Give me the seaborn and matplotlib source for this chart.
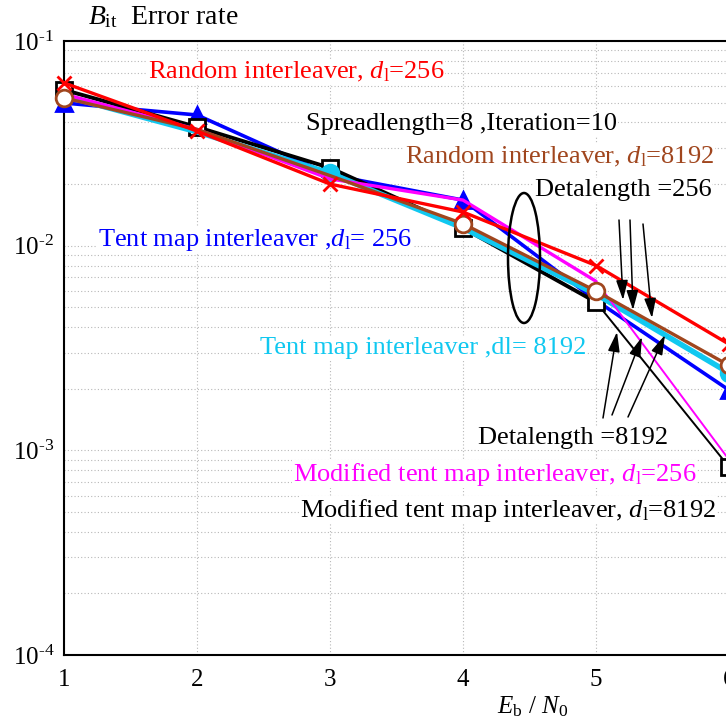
import matplotlib
matplotlib.use("Agg")
import matplotlib.pyplot as plt
import matplotlib.patches as patches
from matplotlib.ticker import FuncFormatter
import numpy as np
import seaborn as sns

# Eb/N0 points
ebn0 = [1, 2, 3, 4, 5, 6]

# bit error rate per interleaver
ber_random_256 = [0.0624, 0.0363, 0.0200, 0.0146, 0.0080, 0.0033]
ber_random_8192 = [0.0527, 0.0370, 0.0220, 0.0128, 0.0060, 0.0026]
ber_tent_256 = [0.0498, 0.0435, 0.0222, 0.0167, 0.0054, 0.00197]
ber_tent_8192 = [0.0540, 0.0360, 0.0226, 0.0122, 0.0058, 0.00239]
ber_mod_256 = [0.0550, 0.0370, 0.0212, 0.0167, 0.0067, 0.00090]
ber_mod_8192 = [0.0577, 0.0380, 0.0240, 0.0122, 0.0053, 0.00083]

sns.set_theme(style="white")
plt.rcParams["font.family"] = ["Liberation Serif", "DejaVu Serif"]
plt.rcParams["mathtext.fontset"] = "custom"
plt.rcParams["mathtext.rm"] = "Liberation Serif"
plt.rcParams["mathtext.it"] = "Liberation Serif:italic"
plt.rcParams["text.color"] = "black"
plt.rcParams["axes.labelcolor"] = "black"

W, H = 726, 720
fig = plt.figure(figsize=(W / 100, H / 100), dpi=100)
# axes box in image pixels: left 64, right 729, top 41, bottom 655
L, R, T, B = 64, 729, 41, 655
ax = fig.add_axes([L / W, 1 - B / H, (R - L) / W, (B - T) / H])

# (data, color, marker, size, facecolor, linewidth, thin-from index, marker points)
series = [
    (ber_tent_256, "#0000ff", "^", 11, "#0000ff", 2.6, None, [0, 1, 3, 5]),
    (ber_mod_8192, "black", "s", 12, "white", 2.8, 4, [0, 1, 2, 3, 4, 5]),
    (ber_tent_8192, "#10c8f0", "o", 12, "#10c8f0", 4.0, None, [2, 5]),
    (ber_mod_256, "#ff00ff", None, 0, "none", 2.4, 4, []),
    (ber_random_8192, "#a0461e", "o", 12, "white", 2.4, None, [0, 3, 4, 5]),
    (ber_random_256, "#ff0000", "x", 10, "#ff0000", 2.4, None, [0, 1, 2, 3, 4, 5]),
]

for i, (vals, col, mk, ms, mfc, lw, thin, every) in enumerate(series):
    z = 3 + i
    if thin is None:
        sns.lineplot(x=ebn0, y=vals, ax=ax, color=col, lw=lw, zorder=z)
    else:
        sns.lineplot(x=ebn0[:thin + 1], y=vals[:thin + 1], ax=ax, color=col,
                     lw=lw, zorder=z)
        sns.lineplot(x=ebn0[thin:], y=vals[thin:], ax=ax, color=col,
                     lw=1.4, zorder=z)
    if mk:
        ax.plot(ebn0, vals, ls="none", marker=mk, markersize=ms,
                markevery=every, markerfacecolor=mfc, markeredgecolor=col,
                markeredgewidth=2, zorder=z + 0.5, clip_on=False)

ax.set_yscale("log")
ax.set_xlim(1, 6)
ax.set_ylim(1e-4, 1e-1)
ax.set_xticks(ebn0)
ax.yaxis.set_major_formatter(
    FuncFormatter(lambda v, p: r"10$^{\text{%d}}$" % round(np.log10(v))))
ax.grid(True, which="major", axis="x", color="#b8b8b8", lw=0.8, ls=(0, (1, 2)))
ax.grid(True, which="both", axis="y", color="#b8b8b8", lw=0.8, ls=(0, (1, 2)))
ax.set_axisbelow(True)
ax.tick_params(which="both", length=0, labelsize=18, colors="black")
ax.tick_params(axis="x", pad=10)
ax.tick_params(axis="y", pad=7)
for s in ["left", "bottom", "top", "right"]:
    ax.spines[s].set_color("black")
    ax.spines[s].set_linewidth(1.5)

ax.set_xlabel(r"$E_{\rm b}$ / $N_0$", fontsize=18)
ax.xaxis.set_label_coords((533 - L) / (R - L), (B - 707) / (B - T))
ax.xaxis.label.set_va("center")
fig.text(88 / W, 1 - 17 / H, r"$B_{\rm it}$  Error rate", fontsize=20,
         ha="left", va="center")


def px(x, y):
    return ((x - L) / (R - L), (B - y) / (B - T))


bg = dict(facecolor="white", edgecolor="none", pad=0.5)
notes = [
    (148, 72, r"Random interleaver, $d_{\rm l}$=256", "#ff0000"),
    (306, 124, "Spreadlength=8 ,Iteration=10", "black"),
    (405, 157, r"Random interleaver, $d_{\rm l}$=8192", "#a0461e"),
    (535, 190, "Detalength =256", "black"),
    (98, 240, r"Tent map interleaver ,$d_{\rm l}$= 256", "#0000ff"),
    (260, 348, "Tent map interleaver ,dl= 8192", "#10c8f0"),
    (478, 438, "Detalength =8192", "black"),
    (293, 474, r"Modified tent map interleaver, $d_{\rm l}$=256", "#ff00ff"),
    (300, 510, r"Modified tent map interleaver, $d_{\rm l}$=8192", "black"),
]
for x, y, txt, col in notes:
    ax.text(*px(x, y), txt, transform=ax.transAxes, color=col, fontsize=19,
            ha="left", va="center", bbox=bg, zorder=2)

cx, cy = px(524, 258)
ax.add_patch(patches.Ellipse((cx, cy), 32 / (R - L), 130 / (B - T),
                             transform=ax.transAxes, fill=False,
                             edgecolor="black", lw=1.8, zorder=10))

arrows = [
    ((619, 220), (623, 300)), ((630, 220), (633, 310)), ((643, 224), (652, 318)),
    ((603, 418), (617, 332)), ((612, 415), (642, 337)), ((628, 417), (665, 335)),
]
for (x0, y0), (x1, y1) in arrows:
    ax.annotate("", xy=px(x1, y1), xytext=px(x0, y0), xycoords="axes fraction",
                textcoords="axes fraction", zorder=11,
                arrowprops=dict(arrowstyle="-|>,head_length=1.0,head_width=0.3",
                                color="black", lw=1.1, shrinkA=0, shrinkB=0))

fig.savefig("out.png", dpi=100)
